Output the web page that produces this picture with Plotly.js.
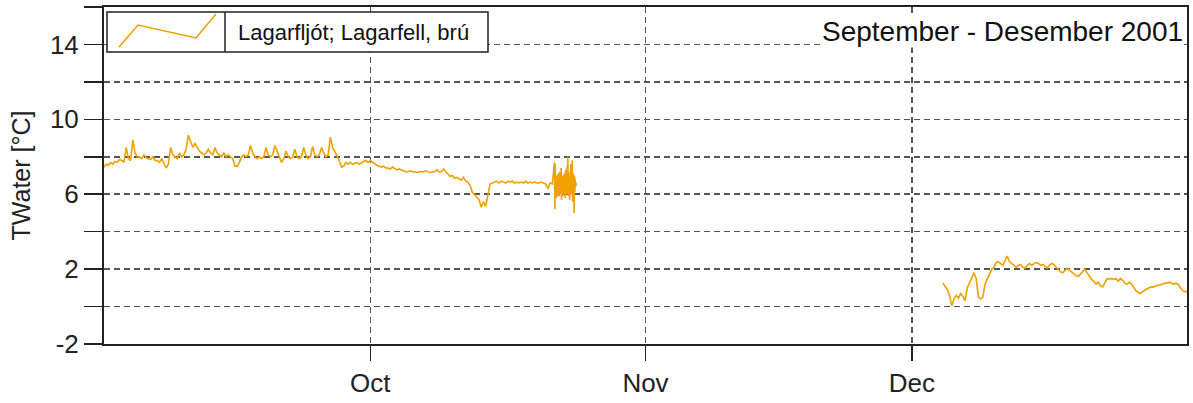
<!DOCTYPE html>
<html>
<head>
<meta charset="utf-8">
<script src="https://cdn.plot.ly/plotly-3.0.1.min.js"></script>
<style>html,body{margin:0;padding:0;background:#fff;}#chart{width:1193px;height:403px;}</style>
</head>
<body>
<div id="chart"></div>
<script>
// ---- data (water temperature, °C) ----
const periodStart = '2001-09-01';           // day 0 of the series
const seriesName = 'Lagarfljót; Lagarfell, brú';
const chartTitle = 'September - Desember 2001';
const yTitle = 'TWater [°C]';

// segment 1: from day 0, one reading every 6 hours
const seg1StartDay = 0;
const seg1StepHours = 6;
const seg1Temps = [
  7.45,7.6,7.55,7.7,  7.6,7.75,7.7,7.85,  7.8,7.7,8.5,7.9,  7.8,8.9,8.2,8.0,
  8.0,7.9,8.1,7.95,   7.9,7.85,8.0,7.8,   7.8,7.7,7.9,7.6,  7.4,7.6,8.5,8.1,
  8.0,7.9,8.2,8.0,    8.1,8.4,9.15,8.8,   8.5,8.7,8.5,8.3,  8.2,8.1,8.2,8.4,
  8.2,8.1,8.5,8.2,    8.1,8.0,8.2,8.0,    8.1,8.0,7.9,7.5,  7.5,7.7,8.0,8.1,
  8.0,8.1,8.6,8.2,    8.0,7.9,8.0,7.9,    8.0,8.5,8.1,8.0,  8.1,8.6,8.3,8.0,
  7.7,7.9,8.3,8.0,    7.9,8.0,8.4,8.0,    7.9,8.0,8.5,8.1,  7.9,8.0,8.55,8.1,
  8.0,8.1,8.5,8.2,    8.0,8.1,9.05,8.5,   8.3,8.05,7.8,7.45, 7.5,7.7,7.6,7.7,
  7.6,7.65,7.7,7.6,   7.7,7.75,7.8,7.7,   7.8,7.7,7.6,7.55, 7.5,7.45,7.5,7.4,
  7.4,7.35,7.45,7.35, 7.3,7.35,7.3,7.25,  7.2,7.2,7.25,7.2, 7.2,7.15,7.2,7.2,
  7.2,7.25,7.2,7.15,  7.2,7.2,7.3,7.2,    7.2,7.35,7.2,7.05, 6.95,7.0,6.85,6.9,
  6.8,6.75,6.9,6.7,   6.65,6.45,6.1,5.95, 5.85,5.7,5.3,5.6, 5.35,5.9,6.55,6.6,
  6.65,6.7,6.6,6.7,   6.65,6.6,6.7,6.65,  6.7,6.6,6.65,6.6, 6.65,6.6,6.7,6.6,
  6.65,6.6,6.65,6.6,  6.6,6.65,6.6,6.55,  6.3,6.6,6.55
];

// segment 2: unstable readings at the end of October, hourly
const seg2StartDay = 50.75;
const seg2StepHours = 1;
const seg2Temps = [
  7.7,5.2,7.6,6.0,6.9,5.8,7.0,6.2,6.8,5.9,7.1,6.3,6.6,5.9,7.2,6.1,6.9,6.0,7.4,5.7,
  6.8,6.4,7.0,5.9,6.7,6.2,7.1,6.0,6.9,5.8,7.3,6.3,6.6,6.0,7.5,6.1,8.0,5.9,7.2,6.4,
  6.8,5.7,7.0,6.3,7.6,6.0,6.9,6.2,7.8,5.6,7.1,6.3,6.7,5.0,7.0,6.1,6.8,6.4,6.6,6.5
];

// segment 3: December, one reading every 6 hours
const seg3StartDay = 94.5;
const seg3StepHours = 6;
const seg3Temps = [
  1.25,1.1,0.9,0.6,  0.05,0.4,0.6,0.45, 0.7,0.55,0.3,1.0, 1.3,1.6,1.8,1.5,
  0.5,0.4,0.5,1.2,   1.5,1.8,2.0,2.1,   2.35,2.4,2.3,2.2, 2.45,2.7,2.4,2.3,
  2.2,2.1,2.2,2.25,  2.1,2.05,2.2,2.3,  2.2,2.3,2.35,2.3, 2.2,2.25,2.15,2.05,
  2.2,2.3,2.25,2.1,  2.0,1.85,1.8,1.9,  2.05,1.95,1.85,1.7, 1.65,1.6,1.75,1.9,
  2.0,1.8,1.6,1.45,  1.35,1.2,1.3,1.1,  1.05,1.3,1.5,1.45, 1.5,1.45,1.5,1.35,
  1.5,1.4,1.25,1.2,  1.3,1.2,1.0,0.85,  0.75,0.7,0.8,0.9,  0.95,1.0,1.05,1.05,
  1.1,1.15,1.15,1.2, 1.25,1.25,1.3,1.25, 1.2,1.25,1.2,1.0, 0.85,0.8,0.8
];

const yTickVals = [-2,0,2,4,6,8,10,12,14,16];
const yTickText = ['-2','','2','','6','','10','','14',''];
const xTickVals = ['2001-10-01','2001-11-01','2001-12-01'];
const xTickText = ['Oct','Nov','Dec'];
const xRange = ['2001-09-01','2002-01-01'];
const yRange = [-2,16];

// ---- build ----
const base = Date.parse(periodStart + 'T00:00:00Z');
function toDate(day){ return new Date(base + day*86400000).toISOString().slice(0,19).replace('T',' '); }
const xs = [], ys = [];
function addSeg(startDay, stepH, vals){
  vals.forEach((v,i)=>{ xs.push(toDate(startDay + i*stepH/24)); ys.push(v); });
}
addSeg(seg1StartDay, seg1StepHours, seg1Temps);
addSeg(seg2StartDay, seg2StepHours, seg2Temps);
xs.push(toDate(70)); ys.push(null);
addSeg(seg3StartDay, seg3StepHours, seg3Temps);

const orange = '#f0a000';
const FONT = 'Liberation Sans, Arial, sans-serif';

const trace = {
  x: xs, y: ys, type: 'scatter', mode: 'lines', name: seriesName,
  connectgaps: false,
  line: {color: orange, width: 1.6},
  showlegend: false
};

// legend box pixel helpers (paper coords)
const L = 104, R = 1187, T = 7, B = 344;
const px = x => (x - L)/(R - L);
const py = y => (B - y)/(B - T);

const layout = {
  width: 1193, height: 403,
  margin: {l: L, r: 1193 - R, t: T, b: 403 - B},
  paper_bgcolor: '#fff', plot_bgcolor: '#fff',
  font: {family: FONT, color: '#222'},
  showlegend: false,
  xaxis: {
    type: 'date', range: xRange,
    tickmode: 'array', tickvals: xTickVals, ticktext: xTickText,
    ticks: 'outside', ticklen: 15, tickwidth: 1.5, tickcolor: '#222',
    showline: true, linewidth: 2, linecolor: '#222', mirror: true,
    showgrid: true, gridcolor: '#555', gridwidth: 1.5, griddash: '6px,4px',
    zeroline: false,
    tickfont: {family: FONT, size: 26, color: '#222'}
  },
  yaxis: {
    range: yRange,
    tickmode: 'array', tickvals: yTickVals, ticktext: yTickText,
    ticks: 'outside', ticklen: 18, tickwidth: 1.5, tickcolor: '#222',
    showline: true, linewidth: 2, linecolor: '#222', mirror: true,
    showgrid: true, gridcolor: '#555', gridwidth: 1.5, griddash: '6px,4px',
    zeroline: false,
    tickfont: {family: FONT, size: 26, color: '#222'},
    title: {text: yTitle, font: {family: FONT, size: 25, color: '#222'}, standoff: 12}
  },
  shapes: [
    {type: 'rect', xref: 'paper', yref: 'paper', x0: px(107), x1: px(488), y0: py(52), y1: py(12),
     fillcolor: '#fff', line: {color: '#222', width: 1.5}, layer: 'above'},
    {type: 'line', xref: 'paper', yref: 'paper', x0: px(225), x1: px(225), y0: py(52), y1: py(12),
     line: {color: '#222', width: 1.5}, layer: 'above'},
    {type: 'path', xref: 'paper', yref: 'paper', layer: 'above',
     path: 'M ' + px(119) + ' ' + py(47) + ' L ' + px(138) + ' ' + py(25) + ' L ' + px(196) + ' ' + py(38) + ' L ' + px(216) + ' ' + py(14),
     line: {color: orange, width: 1.5}}
  ],
  annotations: [
    {xref: 'paper', yref: 'paper', x: px(236), y: py(32), xanchor: 'left', yanchor: 'middle',
     text: seriesName, showarrow: false, font: {family: FONT, size: 22, color: '#111'}},
    {xref: 'paper', yref: 'paper', x: px(1184), y: py(31), xanchor: 'right', yanchor: 'middle',
     text: chartTitle, showarrow: false, bgcolor: '#fff', borderpad: 0,
     font: {family: FONT, size: 28, color: '#111'}}
  ]
};

Plotly.newPlot('chart', [trace], layout, {displayModeBar: false, staticPlot: true});
</script>
</body>
</html>
